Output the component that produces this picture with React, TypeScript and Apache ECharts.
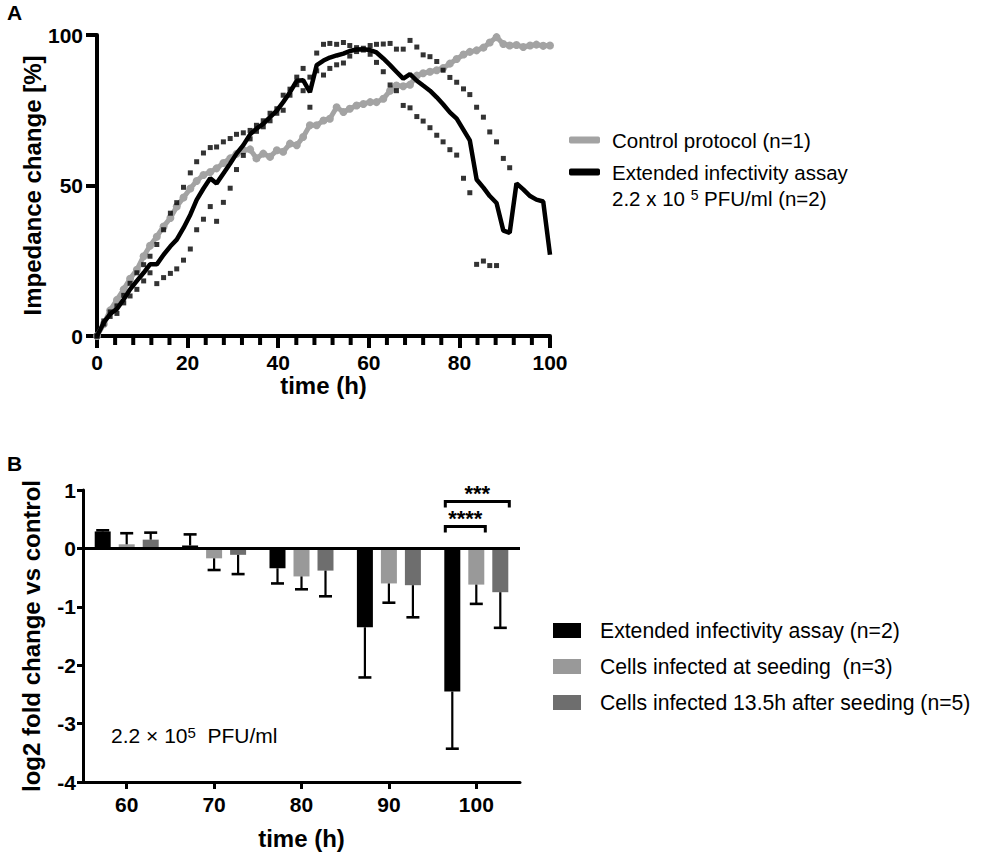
import React, { useEffect, useRef } from "react";
import * as echarts from "echarts";

const FONT = '"Liberation Sans", Arial, Helvetica, sans-serif';

// ---------- Panel A data ----------
const TIME_A = [
  0, 1.5, 2.9, 4.4, 5.9, 7.3, 8.8, 10.3, 11.7, 13.2,
  14.7, 16.2, 17.6, 19.1, 20.6, 22, 23.5, 25, 26.4, 27.9,
  29.4, 30.8, 32.3, 33.8, 35.2, 36.7, 38.2, 39.7, 41.1, 42.6,
  44.1, 45.5, 47, 48.5, 50, 51.4, 52.9, 54.4, 55.8, 57.3,
  58.8, 60.3, 61.7, 63.2, 64.7, 66.1, 67.6, 69.1, 70.6, 72,
  73.5, 75, 76.4, 77.9, 79.4, 80.9, 82.3, 83.8, 85.3, 86.7,
  88.2, 89.7, 91.1, 92.6, 94.1, 95.6, 97, 98.5, 100,
];

const CONTROL = [
  0, 4, 8.5, 12, 15.5, 19, 22, 26.5, 30, 33,
  36.4, 39.2, 43, 46, 49, 51.5, 53.5, 54.5, 55.7, 57.5,
  59, 60.5, 61.7, 62, 59, 60.6, 59.5, 61.7, 61.2, 63.9,
  63.4, 66.1, 70, 70, 71.6, 72.2, 76, 74.4, 75.5, 76.6,
  77.1, 77.7, 77.7, 78.8, 81.5, 83.2, 83, 83.5, 86.5, 87.3,
  87.8, 88.3, 89, 90.5, 92, 93.5, 94.4, 94.9, 95.8, 97.5,
  99.3, 97, 96.5, 96.7, 96, 96.5, 96.8, 96.4, 96.5,
];

const EXT_MEAN = [
  0, 4.5, 7.3, 9, 12.2, 15.5, 18.3, 21, 23.8, 23.8,
  27, 29.8, 32, 35.9, 40.3, 45.2, 49, 52.4, 50.7, 54,
  57.3, 60.6, 63.4, 67, 68.9, 70.5, 72.7, 74.9, 77.7, 81,
  84.8, 85, 81, 90, 91.5, 92.5, 93.2, 93.8, 94.7, 95.2,
  95.3, 95, 94.2, 92.2, 90, 87.8, 85.5, 87, 84.8, 83.2,
  81.5, 79.3, 77, 74.3, 72.2, 68.5, 65, 52, 49.3, 46.5,
  44.2, 35, 34.3, 50.7, 48.7, 46.5, 45.3, 44.7, 27,
];

const EXT_REP1 = [
  0, 5, 8, 10, 13.5, 17.5, 21, 23.7, 26.5, 30.4,
  35.3, 40.8, 44.3, 49.4, 54.2, 57.9, 60.8, 62.6, 62.8, 64.5,
  65.6, 67, 67.5, 68.3, 70, 71.5, 74, 75.5, 80, 82,
  86, 88.9, 86, 94, 96.9, 97.2, 96.9, 97.5, 96.5, 95.8,
  95.6, 96.5, 96.9, 97, 97.2, 95.3, 95.3, 98.2, 96, 93.4,
  92.8, 91.2, 88.3, 85.9, 84.3, 82.1, 80.2, 76, 72.7, 67.8,
  64.5, 59, 55.9,
];

const EXT_REP2 = [
  0, 4, 6.5, 7.5, 11, 13.3, 15.5, 18.3, 21, 17.4,
  19.4, 20.8, 22.3, 25.2, 28.9, 35.3, 38.8, 43, 38.1, 44.4,
  49.1, 55.3, 60, 65.5, 68, 69.5, 71.5, 74, 75, 80,
  83.5, 81.5, 76, 88.1, 86.7, 88.9, 90.1, 90.7, 93, 94.5,
  95, 93.6, 90.9, 87.8, 83.4, 81.5, 76.6, 75.8, 72.9, 71.4,
  69.2, 66.7, 64.5, 61.9, 60.1, 52.4, 47.6, 23.8, 24.9, 23.4,
  23.4,
];

const A_X_TICKS = { min: 0, max: 100, interval: 20 };
const A_X_MINOR_TICKS = [4, 8, 12, 16, 24, 28, 32, 36, 44, 48, 52, 56, 64, 68, 72, 76, 84, 88, 92, 96];
const A_Y_TICKS = { min: 0, max: 100, interval: 50 };

// ---------- Panel B data ----------
const CATS_B = ["60", "70", "80", "90", "100"];
const EXT_B = [0.29, 0.05, -0.34, -1.35, -2.45];
const EXT_B_ERR = [0.02, 0.19, 0.26, 0.86, 0.98];
const SEED_B = [0.07, -0.17, -0.48, -0.6, -0.62];
const SEED_B_ERR = [0.19, 0.2, 0.22, 0.33, 0.33];
const LATE_B = [0.15, -0.11, -0.38, -0.63, -0.75];
const LATE_B_ERR = [0.12, 0.33, 0.44, 0.55, 0.61];
const B_Y_TICKS = { min: -4, max: 1, interval: 1 };

// significance: [category index, from series, to series, level]
const SIG_B = [
  [4, 0, 1, 0],
  [4, 0, 2, 1],
];
const SIG_LABELS = ["****", "***"];

const NAME_CONTROL = "Control protocol (n=1)";
const NAME_EXT = "Extended infectivity assay";
const NAMES_B = [
  "Extended infectivity assay (n=2)",
  "Cells infected at seeding  (n=3)",
  "Cells infected 13.5h after seeding (n=5)",
];

const zip = (t: number[], v: number[]) => v.map((y, i) => [t[i], y]);

const BAR_W = 16;
const BAR_STEP = 24;

function buildOption() {
  const boldLabel = { color: "#000", fontSize: 21, fontWeight: "bold", fontFamily: FONT };
  const nameStyle = { color: "#000", fontSize: 24, fontWeight: "bold", fontFamily: FONT };

  const valsB = [EXT_B, SEED_B, LATE_B];
  const errsB = [EXT_B_ERR, SEED_B_ERR, LATE_B_ERR];
  const colorsB = ["#000000", "#999999", "#6e6e6e"];
  const errData: number[][] = [];
  valsB.forEach((arr, s) => arr.forEach((v, i) => errData.push([i, v, errsB[s][i], s])));

  return {
    animation: false,
    textStyle: { fontFamily: FONT },
    grid: [
      { left: 97, top: 35, width: 453, height: 301 },
      { left: 83, top: 490, width: 437, height: 292 },
    ],
    xAxis: [
      {
        type: "value",
        gridIndex: 0,
        ...A_X_TICKS,
        name: "time (h)",
        nameLocation: "middle",
        nameGap: 32,
        nameTextStyle: nameStyle,
        axisLine: { show: true, onZero: false, lineStyle: { color: "#000", width: 4 } },
        axisTick: { show: true, length: 12, lineStyle: { color: "#000", width: 4 } },
        axisLabel: { ...boldLabel, margin: 16 },
        splitLine: { show: false },
      },
      {
        type: "category",
        gridIndex: 1,
        data: CATS_B,
        name: "time (h)",
        nameLocation: "middle",
        nameGap: 44,
        nameTextStyle: nameStyle,
        axisLine: { show: true, onZero: false, lineStyle: { color: "#000", width: 3 } },
        axisTick: { show: true, alignWithLabel: true, length: 7, lineStyle: { color: "#000", width: 3 } },
        axisLabel: { ...boldLabel, margin: 12 },
        splitLine: { show: false },
      },
    ],
    yAxis: [
      {
        type: "value",
        gridIndex: 0,
        ...A_Y_TICKS,
        name: "Impedance change [%]",
        nameLocation: "middle",
        nameGap: 53,
        nameTextStyle: nameStyle,
        axisLine: { show: true, onZero: false, lineStyle: { color: "#000", width: 4 } },
        axisTick: { show: true, length: 11, lineStyle: { color: "#000", width: 4 } },
        axisLabel: { ...boldLabel, margin: 14 },
        splitLine: { show: false },
      },
      {
        type: "value",
        gridIndex: 1,
        ...B_Y_TICKS,
        name: "log2 fold change vs control",
        nameLocation: "middle",
        nameGap: 40,
        nameTextStyle: nameStyle,
        axisLine: { show: true, onZero: false, lineStyle: { color: "#000", width: 3 } },
        axisTick: { show: true, length: 6, lineStyle: { color: "#000", width: 3 } },
        axisLabel: { ...boldLabel, margin: 7 },
        splitLine: { show: false },
      },
    ],
    legend: [
      {
        data: [NAME_CONTROL, NAME_EXT],
        orient: "vertical",
        left: 569,
        top: 129,
        padding: 0,
        itemGap: 10,
        itemWidth: 31,
        itemHeight: 7,
        icon: "roundRect",
        selectedMode: false,
        textStyle: { color: "#000", fontSize: 20.5, fontFamily: FONT, lineHeight: 22, padding: [0, 0, 0, 7] },
      },
      {
        data: NAMES_B,
        orient: "vertical",
        left: 553,
        top: 619,
        padding: 0,
        itemGap: 13,
        itemWidth: 28,
        itemHeight: 15,
        icon: "rect",
        selectedMode: false,
        textStyle: { color: "#000", fontSize: 21.2, fontFamily: FONT, lineHeight: 23, padding: [0, 0, 0, 14] },
      },
    ],
    series: [
      {
        name: "minor ticks",
        type: "custom",
        xAxisIndex: 0,
        yAxisIndex: 0,
        data: A_X_MINOR_TICKS.map((t) => [t, 0]),
        z: 1,
        clip: false,
        silent: true,
        renderItem: (params: any, api: any) => {
          const p = api.coord([api.value(0), 0]);
          return {
            type: "rect",
            shape: { x: p[0] - 2, y: p[1], width: 4, height: 9 },
            style: { fill: "#000" },
          };
        },
      },
      {
        name: NAME_CONTROL,
        type: "line",
        xAxisIndex: 0,
        yAxisIndex: 0,
        data: zip(TIME_A, CONTROL),
        symbol: "circle",
        symbolSize: 8,
        itemStyle: { color: "#a3a3a3" },
        lineStyle: { color: "#a3a3a3", width: 5 },
        z: 2,
      },
      {
        name: "Replicate 1",
        type: "scatter",
        xAxisIndex: 0,
        yAxisIndex: 0,
        data: zip(TIME_A, EXT_REP1),
        symbol: "rect",
        symbolSize: 5,
        itemStyle: { color: "#000" },
        z: 3,
      },
      {
        name: "Replicate 2",
        type: "scatter",
        xAxisIndex: 0,
        yAxisIndex: 0,
        data: zip(TIME_A, EXT_REP2),
        symbol: "rect",
        symbolSize: 5,
        itemStyle: { color: "#000" },
        z: 3,
      },
      {
        name: NAME_EXT,
        type: "line",
        xAxisIndex: 0,
        yAxisIndex: 0,
        data: zip(TIME_A, EXT_MEAN),
        symbol: "none",
        itemStyle: { color: "#000" },
        lineStyle: { color: "#000", width: 4.5 },
        z: 4,
      },
      ...valsB.map((arr, s) => ({
        name: NAMES_B[s],
        type: "bar",
        xAxisIndex: 1,
        yAxisIndex: 1,
        data: arr,
        barWidth: BAR_W,
        barGap: "50%",
        itemStyle: { color: colorsB[s] },
        z: 2,
        ...(s === 0
          ? {
              markLine: {
                silent: true,
                symbol: ["none", "none"],
                label: { show: false },
                lineStyle: { color: "#000", width: 3, type: "solid" },
                data: [{ yAxis: 0 }],
              },
            }
          : {}),
      })),
      {
        name: "error bars",
        type: "custom",
        xAxisIndex: 1,
        yAxisIndex: 1,
        data: errData,
        z: 3,
        renderItem: (params: any, api: any) => {
          const cat = api.value(0);
          const v = api.value(1);
          const e = api.value(2);
          const s = api.value(3);
          const p0 = api.coord([cat, v]);
          const p1 = api.coord([cat, v >= 0 ? v + e : v - e]);
          const x = p0[0] + (s - 1) * BAR_STEP;
          return {
            type: "group",
            children: [
              { type: "line", shape: { x1: x, y1: p0[1], x2: x, y2: p1[1] }, style: { stroke: "#000", lineWidth: 2.2 } },
              { type: "line", shape: { x1: x - 6.5, y1: p1[1], x2: x + 6.5, y2: p1[1] }, style: { stroke: "#000", lineWidth: 2.6 } },
            ],
          };
        },
      },
      {
        name: "significance",
        type: "custom",
        xAxisIndex: 1,
        yAxisIndex: 1,
        data: SIG_B,
        z: 5,
        renderItem: (params: any, api: any) => {
          const cat = api.value(0);
          const from = api.value(1);
          const to = api.value(2);
          const level = api.value(3);
          const base = api.coord([cat, 0]);
          const xFrom = base[0] + (from - 1) * BAR_STEP - 7;
          const xTo = base[0] + (to - 1) * BAR_STEP + 9;
          const yLine = base[1] - 22 - level * 25;
          return {
            type: "group",
            children: [
              {
                type: "polyline",
                shape: { points: [[xFrom, yLine + 6], [xFrom, yLine], [xTo, yLine], [xTo, yLine + 6]] },
                style: { stroke: "#000", lineWidth: 3, fill: null },
              },
              {
                type: "text",
                x: (xFrom + xTo) / 2,
                y: yLine - 8,
                style: {
                  text: SIG_LABELS[params.dataIndex],
                  align: "center",
                  verticalAlign: "middle",
                  fontSize: 22,
                  fontWeight: "bold",
                  fontFamily: FONT,
                  fill: "#000",
                },
              },
            ],
          };
        },
      },
    ],
    graphic: [
      {
        type: "text",
        x: 7,
        y: 2,
        style: { text: "A", fontSize: 21, fontWeight: "bold", fontFamily: FONT, fill: "#000" },
      },
      {
        type: "text",
        x: 7,
        y: 453,
        style: { text: "B", fontSize: 21, fontWeight: "bold", fontFamily: FONT, fill: "#000" },
      },
      {
        type: "text",
        x: 612,
        y: 188,
        style: {
          text: "2.2 x 10 {sup|5} PFU/ml (n=2)",
          fontSize: 20.5,
          fontFamily: FONT,
          fill: "#000",
          rich: {
            sup: { fontSize: 14, fontFamily: FONT, fill: "#000", verticalAlign: "top" },
          },
        },
      },
      {
        type: "text",
        x: 111,
        y: 725,
        style: {
          text: "2.2 × 10{sup|5}  PFU/ml",
          fontSize: 21,
          fontFamily: FONT,
          fill: "#000",
          rich: {
            sup: { fontSize: 15, fontFamily: FONT, fill: "#000", verticalAlign: "top" },
          },
        },
      },
    ],
  };
}

export default function App() {
  const ref = useRef<HTMLDivElement>(null);
  useEffect(() => {
    document.body.style.margin = "0";
    const chart = echarts.init(ref.current as HTMLDivElement, null, { renderer: "svg" });
    chart.setOption(buildOption() as any);
    return () => chart.dispose();
  }, []);
  return <div ref={ref} style={{ width: 981, height: 858 }} />;
}
